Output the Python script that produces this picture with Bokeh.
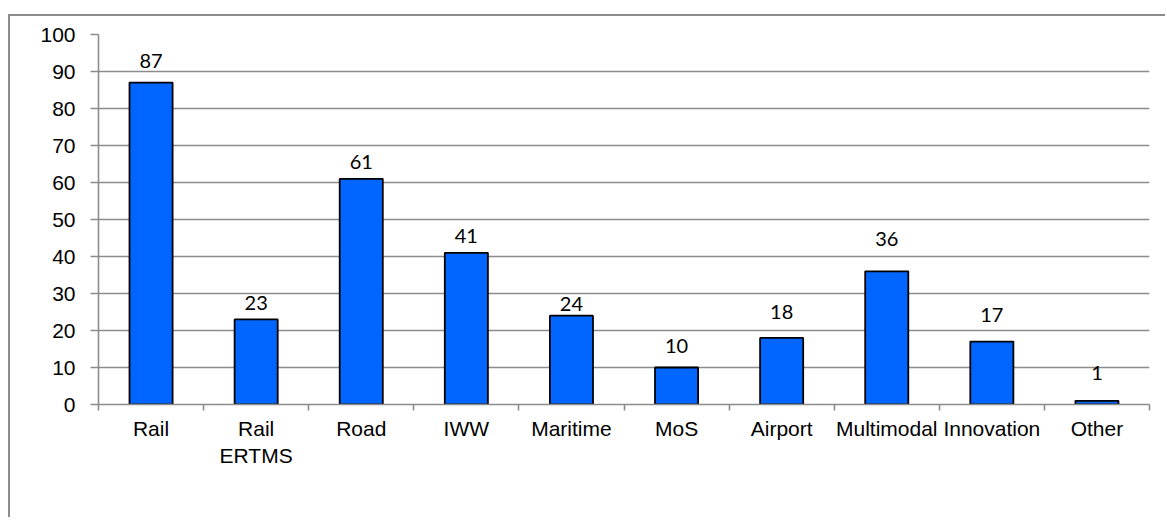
from bokeh.plotting import figure
from bokeh.models import ColumnDataSource, FixedTicker, Range1d, CustomJSTickFormatter
from bokeh.core.properties import value
from bokeh.embed import file_html
from bokeh.resources import INLINE

# ---- data ----
categories = ["Rail", "Rail\nERTMS", "Road", "IWW", "Maritime", "MoS", "Airport",
              "Multimodal", "Innovation", "Other"]
counts = [87, 23, 61, 41, 24, 10, 18, 36, 17, 1]
y_ticks = [0, 10, 20, 30, 40, 50, 60, 70, 80, 90, 100]

# label gaps above bars (px), as placed in the original
label_gaps = [14, 8, 9, 9, 4, 14, 18, 24, 19, 20]
BASELINE_FIX = 8

xs = [i + 0.5 for i in range(len(categories))]
src = ColumnDataSource(dict(x=xs, top=counts, lab=[str(c) for c in counts],
                            yoff=[-(g + BASELINE_FIX) for g in label_gaps]))

GRAY = "#8c8c8c"

p = figure(width=1157, height=503, output_backend="svg", toolbar_location=None,
           x_range=Range1d(0, len(categories)), y_range=Range1d(0, 100),
           min_border_left=88, min_border_top=18, min_border_right=18, min_border_bottom=115,
           styles={"margin-top": "14px", "margin-left": "8px",
                   "border-left": "2px solid " + GRAY,
                   "border-top": "2px solid " + GRAY})
p.outline_line_color = None
p.background_fill_color = "white"
p.border_fill_color = "white"

p.vbar(x="x", top="top", width=0.41, bottom=0, source=src,
       fill_color="#0066FF", line_color="black", line_width=1.8)

p.text(x="x", y="top", text="lab", source=src, y_offset="yoff",
       text_align="center", text_baseline="alphabetic",
       text_font=value("Lato"), text_font_size="20px", text_color="black")

# y axis
p.yaxis.ticker = FixedTicker(ticks=y_ticks)
p.yaxis.axis_line_color = GRAY
p.yaxis.axis_line_width = 1.6
p.yaxis.major_tick_line_color = GRAY
p.yaxis.major_tick_line_width = 1.6
p.yaxis.major_tick_in = 0
p.yaxis.major_tick_out = 8
p.yaxis.minor_tick_line_color = None
p.yaxis.major_label_standoff = 15
p.yaxis.major_label_text_font = "Liberation Sans"
p.yaxis.major_label_text_font_size = "21px"
p.yaxis.major_label_text_color = "black"

p.ygrid.grid_line_color = GRAY
p.ygrid.grid_line_width = 1.6
p.ygrid.ticker = FixedTicker(ticks=y_ticks)
p.xgrid.grid_line_color = None

# x axis: labels at centres, ticks at category boundaries
p.xaxis.ticker = FixedTicker(ticks=xs, minor_ticks=list(range(len(categories) + 1)))
p.xaxis.formatter = CustomJSTickFormatter(args=dict(labels=categories),
                                          code="return labels[Math.floor(tick)];")
p.xaxis.axis_line_color = GRAY
p.xaxis.axis_line_width = 1.6
p.xaxis.major_tick_line_color = None
p.xaxis.major_tick_in = 0
p.xaxis.major_tick_out = 0
p.xaxis.minor_tick_line_color = GRAY
p.xaxis.minor_tick_line_width = 1.6
p.xaxis.minor_tick_in = 0
p.xaxis.minor_tick_out = 6
p.xaxis.major_label_standoff = 6
p.xaxis.major_label_text_font = "Liberation Sans"
p.xaxis.major_label_text_font_size = "21px"
p.xaxis.major_label_text_color = "black"

open("out.html", "w").write(file_html(p, INLINE))
